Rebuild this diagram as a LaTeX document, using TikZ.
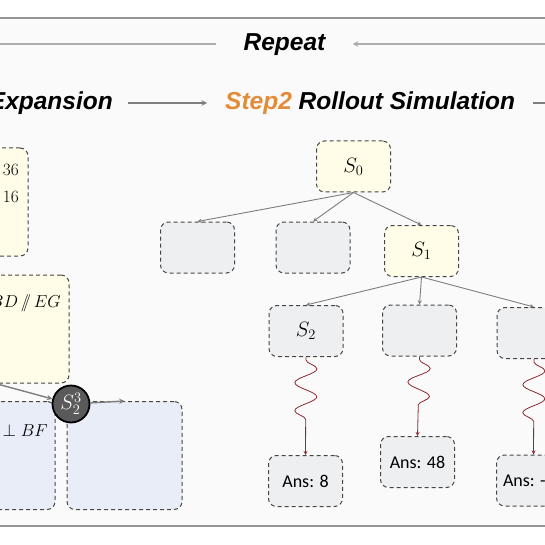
\documentclass[tikz,border=0pt]{standalone}
\usepackage{amsmath}
\usepackage{amssymb}
\usepackage{fontspec}
\newfontfamily\headfont{Liberation Sans}
\newfontfamily\ansfont{Carlito}
\usepackage{tikz}
\usetikzlibrary{arrows,shapes,positioning,decorations.pathmorphing}
\usepackage{xcolor}
\definecolor{mcframe}{RGB}{150,150,150}
\definecolor{mcbg}{RGB}{250,250,250}
\definecolor{mcrepeat}{RGB}{172,172,172}
\definecolor{mcarrow}{RGB}{125,125,125}
\definecolor{mcorange}{RGB}{226,140,58}
\definecolor{mcyellow}{RGB}{255,253,232}
\definecolor{mcgray}{RGB}{238,239,241}
\definecolor{mcblue}{RGB}{232,237,248}
\definecolor{mcdash}{RGB}{70,70,70}
\definecolor{mcred}{RGB}{140,40,50}
\definecolor{mcpick}{RGB}{90,90,90}
\tikzstyle{arrow} = [line width=1.4pt,->,>=stealth,color=mcarrow]
\tikzstyle{treearrow} = [line width=0.9pt,->,>=stealth,color=mcarrow]
\tikzstyle{repeatline} = [line width=1.6pt,>=stealth,color=mcrepeat]
\tikzstyle{rollout} = [line width=0.8pt,->,>=stealth,color=mcred,decorate,decoration={snake,amplitude=11pt,segment length=28pt,pre length=3pt,post length=30pt}]
\tikzstyle{head} = [font=\headfont\bfseries\itshape\fontsize{24.5}{28}\selectfont, text height=18pt, text depth=5pt, inner ysep=0pt]
\tikzstyle{state} = [rectangle, rounded corners=8pt, minimum width=74pt, minimum height=51pt, text centered, draw=mcdash, dash pattern=on 4pt off 3pt, line width=1pt, fill=mcgray, font=\fontsize{20}{22}\selectfont]
\tikzstyle{answer} = [state, font=\ansfont\fontsize{18}{20}\selectfont]
\tikzstyle{cond} = [state, minimum width=118pt, minimum height=108pt]
\tikzstyle{condtext} = [anchor=east, inner sep=0pt, font=\fontsize{17.5}{20}\selectfont]
\tikzstyle{pick} = [circle, fill=mcpick, draw=black, line width=1.8pt, minimum size=37pt, inner sep=0pt, text=white, font=\fontsize{20}{22}\selectfont]

\begin{document}
\begin{tikzpicture}[x=1pt, y=-1pt]
\useasboundingbox (0,0) rectangle (545,545);
\clip (0,0) rectangle (545,545);
% frame
\draw[mcframe, line width=2pt, fill=mcbg] (-20,18) rectangle (565,526);

% Repeat loop
\node (repeat) [head, inner xsep=27pt] at (284.5,44) {Repeat};
\coordinate (repL) at (-10,44);
\coordinate (repR) at (560,44);
\draw[repeatline] (repeat.west) -- (repL);
\draw[repeatline,->] (repR) -- (repeat.east);

% Step titles
\node (expand) [head, anchor=east, inner xsep=15pt] at (128,103) {Expansion};
\node (simulate) [head, anchor=west, inner xsep=18pt] at (207,103) {{\color{mcorange}Step2} Rollout Simulation};
\coordinate (next) at (560,103);
\draw[arrow] (expand) -- (simulate);
\draw[arrow] (simulate) -- (next);

% Step1: expanded conditions
\node (cond1) [cond, fill=mcyellow] at (-31,202) {};
\node (c36) [condtext] at (19,170) {$36$};
\node (c16) [condtext] at (19,197) {$16$};
\node (cond2) [cond, fill=mcyellow] at (10,329) {};
\node (cpar) [condtext] at (61,303) {$BD\,/\!\!/\,EG$};
\node (cond3) [cond, fill=mcblue, minimum width=115pt] at (-2.5,455.5) {};
\node (cperp) [condtext] at (48,430) {$D \perp BF$};
\node (cond4) [cond, fill=mcblue, minimum width=115pt] at (124.5,455.5) {};

% selected state
\node (pick) [pick] at (71,404) {$S_2^3$};
\coordinate (from) at (-10,382);
\draw[arrow] (from) -- (pick);
\draw[arrow] (pick) -- (cond4.north);

% Step2: rollout tree
\node (s0) [state, fill=mcyellow] at (353.5,166.5) {$S_0$};
\node (e1) [state] at (197.5,247.5) {};
\node (e2) [state] at (313,247.5) {};
\node (s1) [state, fill=mcyellow] at (421.5,251) {$S_1$};
\node (s2) [state] at (306,331) {$S_2$};
\node (e3) [state] at (419.5,330.5) {};
\node (e4) [state] at (534,333) {};

\draw[treearrow] (s0.south) -- (e1.north);
\draw[treearrow] (s0.south) -- (e2.north);
\draw[treearrow] (s0.south) -- (s1.north);
\draw[treearrow] (s1.south) -- (s2.north);
\draw[treearrow] (s1.south) -- (e3.north);
\draw[treearrow] (s1.south) -- (e4.north);

% answers
\node (ans1) [answer] at (305.5,481) {Ans: 8};
\node (ans2) [answer] at (417.5,462) {Ans: 48};
\node (ans3) [answer] at (533.5,480.5) {Ans: -\phantom{00}};

\draw[rollout] (s2.south) -- (ans1.north);
\draw[rollout] (e3.south) -- (ans2.north);
\draw[rollout] (e4.south) -- (ans3.north);
\end{tikzpicture}
\end{document}
